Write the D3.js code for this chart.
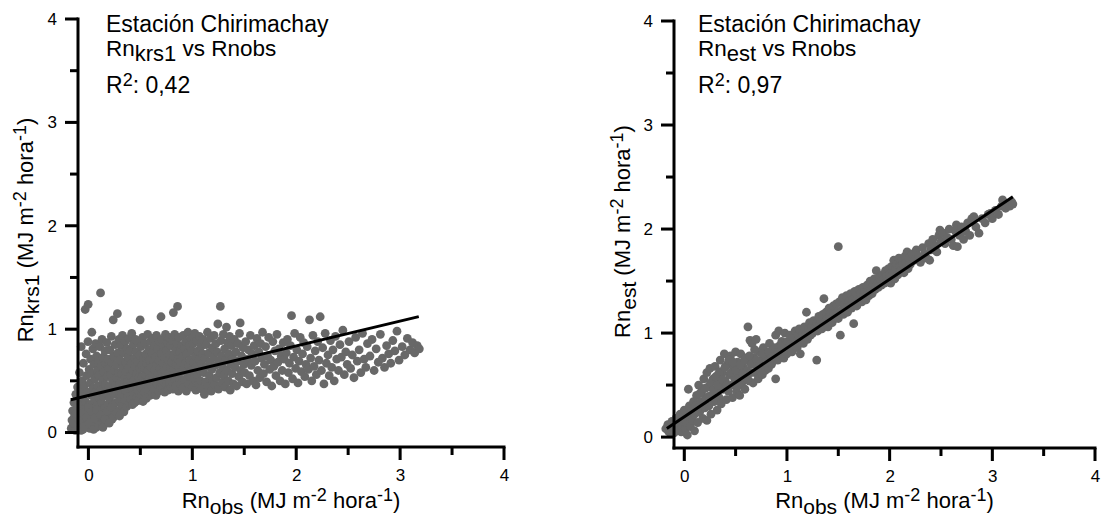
<!DOCTYPE html>
<html>
<head>
<meta charset="utf-8">
<script src="https://cdn.jsdelivr.net/npm/d3@7"></script>
<style>
body { margin: 0; background: #fff; }
text { font-family: "Liberation Sans", Arial, sans-serif; }
</style>
</head>
<body>
<script>
// tick values
var xMajor = [0, 1, 2, 3, 4];
var xMinor = [0.5, 1.5, 2.5, 3.5];
var yMajor = [0, 1, 2, 3, 4];
var yMinor = [0.5, 1.5, 2.5, 3.5];

var stationName = "Estación Chirimachay";
var modelNames = ["krs1", "est"];
var r2Labels = ["0,42", "0,97"];

// Rn_obs (x) vs Rn_krs1 (y)
var krsPoints = [
  [-0.165,0.04],[-0.158,0.12],[-0.152,0.21],[-0.147,0.07],[-0.139,0.29],[-0.133,0.16],[-0.126,0.02],
  [-0.121,0.37],[-0.114,0.1],[-0.108,0.24],[-0.104,0.44],[-0.101,0.15],
  [-0.097,0.05],[-0.093,0.31],[-0.089,0.19],[-0.086,0.58],[-0.081,0.09],[-0.077,0.41],[-0.072,0.26],
  [-0.069,0.83],[-0.064,0.14],[-0.061,0.5],[-0.057,0.35],[-0.052,0.03],[-0.048,0.67],[-0.044,0.22],
  [-0.039,0.45],[-0.035,0.11],[-0.031,1.19],[-0.027,0.3],[-0.022,0.76],[-0.018,0.55],[-0.013,0.07],
  [-0.008,0.39],[-0.004,0.88],[-0.002,1.24],
  [0.003,0.17],[0.007,0.61],[0.011,0.27],[0.014,0.04],[0.018,0.48],[0.022,0.71],[0.026,0.13],
  [0.029,0.36],[0.033,0.97],[0.036,0.57],[0.04,0.22],[0.043,0.81],[0.047,0.43],[0.051,0.09],
  [0.054,0.66],[0.058,0.31],[0.061,0.52],[0.065,0.18],[0.069,0.86],[0.072,0.39],[0.076,0.05],
  [0.079,0.74],[0.083,0.26],[0.086,0.6],[0.09,0.45],[0.093,0.12],[0.097,0.69],[0.099,0.34],
  [0.102,0.55],[0.106,0.2],[0.109,0.83],[0.113,0.08],[0.117,1.35],[0.12,0.41],[0.124,0.64],
  [0.127,0.29],[0.131,0.9],[0.135,0.14],[0.138,0.5],[0.142,0.73],[0.145,0.35],[0.149,0.59],
  [0.153,0.1],[0.156,0.24],[0.16,0.79],[0.163,0.46],[0.167,0.67],[0.171,0.17],[0.174,0.38],
  [0.178,0.87],[0.181,0.54],[0.185,0.27],[0.188,0.71],[0.192,0.12],[0.196,0.44],[0.199,0.62],
  [0.203,0.33],[0.207,0.8],[0.21,0.19],[0.214,0.56],[0.218,0.42],[0.221,0.93],[0.225,0.68],
  [0.229,0.13],[0.232,0.5],[0.236,0.26],[0.239,1.09],[0.243,0.74],[0.247,0.37],[0.25,0.6],
  [0.254,0.16],[0.258,0.85],[0.261,0.46],[0.265,0.29],[0.268,0.66],[0.272,0.53],[0.276,0.21],
  [0.279,1.15],[0.283,0.77],[0.287,0.4],[0.29,0.58],[0.294,0.9],[0.298,0.31],
  [0.302,0.47],[0.306,0.7],[0.309,0.22],[0.313,0.84],[0.317,0.36],[0.32,0.57],[0.324,0.27],
  [0.328,0.94],[0.331,0.63],[0.335,0.43],[0.339,0.77],[0.342,0.2],[0.346,0.52],[0.35,0.31],
  [0.353,0.88],[0.357,0.68],[0.361,0.4],[0.364,0.59],[0.368,0.25],[0.372,0.81],[0.375,0.49],
  [0.379,0.35],[0.383,0.73],[0.386,0.62],[0.39,0.91],[0.394,0.28],[0.397,0.45],
  [0.402,0.79],[0.406,0.55],[0.41,0.32],[0.413,0.67],[0.417,0.96],[0.421,0.42],[0.424,0.27],
  [0.428,0.6],[0.432,0.85],[0.435,0.5],[0.439,0.37],[0.443,0.72],[0.446,0.29],[0.45,0.64],
  [0.454,0.9],[0.457,0.46],[0.461,0.78],[0.465,0.34],[0.468,0.57],[0.472,0.69],[0.476,0.41],
  [0.479,0.87],[0.483,0.31],[0.487,0.53],[0.49,0.75],[0.494,0.62],[0.498,1.09],
  [0.502,0.44],[0.506,0.83],[0.51,0.35],[0.514,0.65],[0.518,0.54],[0.522,0.92],[0.526,0.3],
  [0.53,0.71],[0.534,0.47],[0.538,0.61],[0.542,0.39],[0.546,0.86],[0.55,0.56],[0.554,0.76],
  [0.558,0.33],[0.562,0.67],[0.566,0.49],[0.57,0.95],[0.574,0.6],[0.578,0.41],[0.582,0.8],
  [0.586,0.52],[0.59,0.7],[0.594,0.36],[0.598,0.88],
  [0.603,0.63],[0.607,0.45],[0.611,0.77],[0.615,0.38],[0.619,0.91],[0.623,0.55],[0.627,0.69],
  [0.631,0.42],[0.635,0.84],[0.639,0.6],[0.643,0.5],[0.647,0.73],[0.651,0.36],[0.655,0.94],
  [0.659,0.65],[0.663,0.47],[0.667,0.81],[0.671,0.57],[0.675,0.4],[0.679,0.7],[0.683,0.88],
  [0.687,0.52],[0.691,0.62],[0.695,0.44],[0.699,1.12],
  [0.702,0.76],[0.706,0.58],[0.71,0.9],[0.714,0.43],[0.718,0.67],[0.722,0.5],[0.726,0.83],
  [0.73,0.61],[0.734,0.39],[0.738,0.72],[0.742,0.95],[0.746,0.54],[0.75,0.79],[0.754,0.46],
  [0.758,0.64],[0.762,0.87],[0.766,0.41],[0.77,0.7],[0.774,0.57],[0.778,0.92],[0.782,0.48],
  [0.786,0.75],[0.79,0.63],[0.794,0.84],[0.798,0.44],
  [0.802,0.68],[0.806,0.55],[0.81,0.89],[0.814,0.42],[0.818,1.16],[0.822,0.74],[0.826,0.61],
  [0.83,0.95],[0.834,0.5],[0.838,0.8],[0.842,0.45],[0.846,0.66],[0.85,0.86],[0.854,0.58],
  [0.858,1.22],[0.862,0.71],[0.866,0.4],[0.87,0.92],[0.874,0.63],[0.878,0.52],[0.882,0.78],
  [0.886,0.69],[0.89,0.47],[0.894,0.84],[0.898,0.59],
  [0.903,0.73],[0.908,0.43],[0.913,0.94],[0.918,0.62],[0.923,0.81],[0.928,0.51],[0.933,0.67],
  [0.938,0.88],[0.943,0.4],[0.948,0.76],[0.953,0.57],[0.958,0.97],[0.963,0.65],[0.968,0.47],
  [0.973,0.84],[0.978,0.7],[0.983,0.54],[0.988,0.91],[0.993,0.6],[0.998,0.79],
  [1.004,0.44],[1.009,0.86],[1.014,0.68],[1.019,0.52],[1.024,0.96],[1.029,0.74],[1.034,0.41],
  [1.039,0.63],[1.044,0.89],[1.049,0.56],[1.054,0.79],[1.059,0.47],[1.064,0.71],[1.069,0.93],
  [1.074,0.6],[1.079,0.5],[1.084,0.83],[1.089,0.66],[1.094,0.42],[1.099,0.76],
  [1.104,0.9],[1.11,0.58],[1.116,0.37],[1.122,0.72],[1.128,0.49],[1.134,0.85],[1.14,0.64],
  [1.146,0.97],[1.152,0.44],[1.158,0.77],[1.164,0.55],[1.17,0.68],[1.176,0.91],[1.182,0.4],
  [1.188,0.61],[1.194,0.82],[1.199,0.5],
  [1.204,0.73],[1.21,0.94],[1.216,0.46],[1.222,0.65],[1.228,0.86],[1.234,0.53],[1.24,0.78],
  [1.246,1.05],[1.252,0.42],[1.258,0.69],[1.264,0.58],[1.27,1.22],[1.276,0.89],[1.282,0.74],
  [1.288,0.48],[1.294,0.63],[1.299,0.95],
  [1.305,0.55],[1.311,0.81],[1.317,0.44],[1.323,0.7],[1.329,1.02],[1.335,0.6],[1.341,0.87],
  [1.347,0.5],[1.353,0.76],[1.359,0.93],[1.365,0.41],[1.371,0.66],[1.377,0.84],[1.383,0.57],
  [1.389,0.72],[1.395,0.47],
  [1.405,0.9],[1.412,0.63],[1.419,0.78],[1.426,0.45],[1.433,0.69],[1.44,0.86],[1.447,0.54],
  [1.454,0.96],[1.461,1.06],[1.468,0.6],[1.475,0.74],[1.482,0.49],[1.489,0.82],[1.496,0.66],
  [1.505,0.58],[1.514,0.88],[1.523,0.47],[1.532,0.71],[1.541,0.8],[1.55,0.55],[1.559,0.94],
  [1.568,0.65],[1.577,0.76],[1.586,0.5],[1.595,0.84],
  [1.604,0.69],[1.613,0.46],[1.622,0.91],[1.631,0.6],[1.64,0.78],[1.649,0.53],[1.658,0.86],
  [1.667,0.72],[1.676,0.97],[1.685,0.57],[1.694,0.66],
  [1.705,0.83],[1.715,0.49],[1.725,0.74],[1.735,0.92],[1.745,0.61],[1.755,0.7],[1.765,0.45],
  [1.775,0.88],[1.785,0.64],[1.795,0.79],
  [1.805,0.55],[1.815,0.95],[1.825,0.68],[1.835,0.81],[1.845,0.5],[1.855,0.74],[1.865,0.6],
  [1.875,0.87],[1.885,0.71],[1.895,0.47],
  [1.905,0.77],[1.915,0.9],[1.925,0.58],[1.935,0.67],[1.945,0.84],[1.955,1.13],[1.965,0.52],
  [1.975,0.73],[1.985,0.96],[1.995,0.62],
  [2.006,0.8],[2.017,0.48],[2.028,0.69],[2.039,0.92],[2.05,0.59],[2.061,0.76],[2.072,0.87],
  [2.083,0.54],[2.094,0.66],
  [2.106,0.83],[2.117,0.61],[2.128,1.09],[2.139,0.72],[2.15,0.5],[2.161,0.94],[2.172,0.64],
  [2.183,0.79],[2.194,0.56],
  [2.207,0.88],[2.219,0.7],[2.231,1.12],[2.243,0.6],[2.255,0.82],[2.267,0.47],[2.279,0.96],[2.291,0.67],
  [2.306,0.75],[2.318,0.55],[2.33,0.89],[2.342,0.63],[2.354,0.8],[2.366,0.5],[2.378,0.93],[2.39,0.71],
  [2.407,0.6],[2.421,0.85],[2.435,0.73],[2.449,0.99],[2.463,0.56],[2.477,0.78],[2.491,0.66],
  [2.508,0.88],[2.524,0.62],[2.54,0.75],[2.556,0.53],[2.572,0.92],[2.588,0.69],
  [2.606,0.8],[2.622,0.58],[2.638,0.96],[2.654,0.71],[2.67,0.63],[2.686,0.86],
  [2.71,0.74],[2.73,0.9],[2.75,0.6],[2.77,0.81],[2.79,0.68],
  [2.81,0.95],[2.83,0.72],[2.85,0.63],[2.87,0.84],[2.89,0.76],
  [2.91,0.67],[2.93,0.89],[2.95,0.79],[2.97,0.98],[2.99,0.7],
  [3.02,0.83],[3.045,0.75],[3.07,0.91],[3.095,0.8],
  [3.12,0.87],[3.14,0.77],[3.165,0.84],[3.185,0.81],
  [-0.14,0.09],[-0.12,0.18],[-0.09,0.12],[-0.07,0.02],[-0.06,0.19],[-0.04,0.06],[-0.02,0.15],
  [0.0,0.24],[0.01,0.09],[0.03,0.2],[0.05,0.03],[0.06,0.14],[0.08,0.22],[0.1,0.07],[0.12,0.17],
  [0.14,0.05],[0.16,0.13],[0.18,0.21],[0.2,0.09],[0.22,0.24],[0.24,0.15],[0.27,0.19],[0.3,0.16]
];

// Rn_obs (x) vs Rn_est (y)
var estPoints = [
  [-0.18,0.08],[-0.16,0.12],[-0.15,0.05],[-0.13,0.1],[-0.12,0.15],[-0.1,0.04],[-0.09,0.12],[-0.08,0.18],
  [-0.06,0.08],[-0.05,0.14],[-0.04,0.22],[-0.03,0.05],[-0.02,0.1],[-0.01,0.18],[0,0.26],[0.01,0.08],
  [0.02,0.14],[0.03,0.02],[0.04,0.2],[0.04,0.46],[0.05,0.3],[0.06,0.1],[0.07,0.24],[0.08,0.16],
  [0.09,0.34],[0.1,0.06],[0.1,0.22],
  [0.11,0.3],[0.12,0.4],[0.13,0.14],[0.14,0.5],[0.15,0.24],[0.16,0.34],[0.17,0.44],[0.18,0.18],
  [0.19,0.56],[0.2,0.28],[0.21,0.38],[0.22,0.62],[0.22,0.16],[0.23,0.48],[0.24,0.3],[0.25,0.66],
  [0.26,0.22],[0.27,0.4],[0.28,0.56],[0.29,0.34],[0.3,0.68],[0.31,0.46],[0.32,0.26],[0.33,0.6],
  [0.34,0.38],[0.35,0.74],[0.35,0.52],
  [0.36,0.32],[0.37,0.62],[0.38,0.46],[0.39,0.8],[0.4,0.54],[0.41,0.36],[0.42,0.7],[0.43,0.44],
  [0.44,0.6],[0.45,0.78],[0.46,0.5],[0.47,0.38],[0.48,0.66],[0.49,0.56],[0.5,0.82],[0.51,0.44],
  [0.52,0.72],[0.53,0.6],[0.54,0.4],[0.55,0.8],[0.56,0.52],[0.57,0.68],[0.58,0.58],[0.59,0.46],
  [0.6,0.76],[0.61,0.64],[0.62,1.06],[0.63,0.54],[0.64,0.93],[0.64,0.72],[0.65,0.62],
  [0.66,0.9],[0.67,0.52],[0.68,0.76],[0.69,0.62],[0.7,0.94],[0.71,0.68],[0.72,0.56],[0.73,0.82],
  [0.74,0.64],[0.75,0.74],[0.76,0.6],[0.77,0.86],[0.78,0.7],[0.79,0.64],[0.8,0.8],[0.81,0.74],
  [0.82,0.66],[0.83,0.9],[0.84,0.78],[0.85,0.7],[0.86,0.84],[0.87,0.76],[0.89,0.56],[0.89,0.98],
  [0.9,0.82],[0.91,0.74],[0.92,1.02],[0.93,0.88],[0.94,0.8],[0.95,0.92],[0.96,0.84],[0.97,0.76],
  [0.98,1.0],[0.99,0.9],
  [0.125,0.27],[0.155,0.42],[0.185,0.31],[0.205,0.47],[0.235,0.39],[0.255,0.52],[0.285,0.45],
  [0.305,0.58],[0.325,0.5],[0.345,0.63],[0.375,0.55],[0.395,0.67],[0.415,0.5],[0.435,0.74],
  [0.455,0.62],[0.475,0.72],[0.505,0.64],[0.525,0.5],[0.545,0.7],[0.565,0.61],[0.585,0.74],
  [0.615,0.56],[0.635,0.78],[0.655,0.7],[0.685,0.84],[0.705,0.74],[0.735,0.7],[0.765,0.8],
  [0.795,0.72],[0.825,0.82],[0.855,0.77],[0.885,0.86],[0.915,0.82],[0.945,0.87],
  [1.0,0.8],[1.01,0.92],[1.02,0.86],[1.03,0.98],[1.04,0.9],[1.05,0.82],[1.06,0.96],[1.07,0.88],
  [1.08,1.02],[1.09,0.92],[1.1,0.86],[1.11,0.98],[1.12,1.04],[1.13,0.8],[1.14,0.94],[1.15,1.0],
  [1.16,0.9],[1.17,1.06],[1.18,0.98],[1.19,1.2],[1.2,0.94],[1.21,1.04],[1.22,1.1],[1.23,0.98],
  [1.24,1.06],[1.25,1.0],[1.26,1.12],[1.27,1.04],[1.29,0.74],[1.29,1.1],[1.3,1.02],[1.31,1.16],
  [1.32,1.08],[1.33,1.12],[1.34,1.04],[1.35,1.18],[1.36,1.33],[1.37,1.1],[1.38,1.2],[1.39,1.14],
  [1.4,1.06],[1.41,1.24],[1.42,1.16],[1.43,1.2],[1.44,1.1],[1.45,1.26],[1.46,1.18],[1.47,1.14],
  [1.48,1.28],[1.49,1.2],[1.5,1.83],[1.5,1.14],
  [1.51,1.3],[1.52,0.98],[1.53,1.22],[1.54,1.34],[1.55,1.18],[1.56,1.28],[1.57,1.24],[1.58,1.36],
  [1.59,1.2],[1.6,1.3],[1.61,1.26],[1.62,1.38],[1.63,1.24],[1.64,1.32],[1.65,1.09],[1.66,1.4],
  [1.67,1.3],[1.68,1.26],[1.69,1.36],[1.7,1.42],[1.71,1.32],[1.72,1.38],[1.73,1.3],[1.74,1.44],
  [1.75,1.36],[1.76,1.4],[1.77,1.32],[1.78,1.46],[1.79,1.4],[1.8,1.36],[1.81,1.5],[1.82,1.42],
  [1.83,1.38],[1.84,1.46],[1.85,1.52],[1.86,1.42],[1.87,1.6],[1.88,1.48],[1.89,1.44],[1.9,1.54],
  [1.91,1.5],[1.92,1.46],[1.93,1.56],[1.94,1.52],[1.95,1.48],[1.96,1.6],[1.97,1.54],[1.98,1.5],
  [1.99,1.62],[2.0,1.56],
  [2.01,1.48],[2.02,1.64],[2.03,1.58],[2.04,1.7],[2.05,1.52],[2.06,1.62],[2.07,1.66],[2.08,1.56],
  [2.09,1.72],[2.1,1.64],[2.11,1.6],[2.12,1.7],[2.13,1.66],[2.14,1.58],[2.15,1.74],[2.16,1.68],
  [2.17,1.78],[2.18,1.62],[2.19,1.72],[2.2,1.66],[2.22,1.76],[2.24,1.7],[2.26,1.8],[2.28,1.74],
  [2.3,1.68],[2.32,1.82],[2.34,1.76],[2.36,1.72],[2.38,1.86],[2.39,1.7],[2.4,1.8],[2.42,1.9],
  [2.44,1.84],[2.46,1.78],[2.48,1.94],[2.49,1.99],[2.5,1.88],
  [2.52,1.96],[2.54,1.86],[2.56,1.92],[2.58,2.0],[2.6,1.9],[2.62,1.84],[2.64,1.98],[2.65,2.04],
  [2.66,1.83],[2.68,1.94],[2.7,2.02],[2.72,1.9],[2.74,1.98],[2.76,2.06],[2.78,1.94],[2.8,2.1],
  [2.82,2.12],[2.84,2.02],[2.87,1.96],[2.9,2.1],[2.93,2.06],[2.96,2.14],[2.98,2.15],[3.0,2.1],
  [3.03,2.18],[3.06,2.14],[3.09,2.22],[3.1,2.28],[3.13,2.2],[3.16,2.24],[3.17,2.22],[3.19,2.26],[3.2,2.24]
];

// fitted lines, end points
var krsFit = [[-0.17, 0.317], [3.18, 1.121]];
var estFit = [[-0.17, 0.083], [3.2, 2.31]];

var svg = d3.select("body").append("svg")
    .attr("width", 1104)
    .attr("height", 522);

var panels = [
  { points: krsPoints, fit: krsFit, model: modelNames[0], r2: r2Labels[0],
    xRange: [78, 504], yRange: [447, 19], yMin: -0.14, textX: 106, yLabelX: 33 },
  { points: estPoints, fit: estFit, model: modelNames[1], r2: r2Labels[1],
    xRange: [674, 1095], yRange: [448, 21], yMin: -0.105, textX: 698, yLabelX: 630 }
];

var NB = "\u00a0";
var markLayer = svg.append("g");
var axisLayer = svg.append("g");
var textLayer = svg.append("g");

// text made of pieces, each with its own size and baseline shift
function richText(sel, parts) {
  var prev = 0;
  parts.forEach(function (p) {
    sel.append("tspan")
      .attr("font-size", p[1] + "px")
      .attr("dy", p[2] - prev)
      .text(p[0]);
    prev = p[2];
  });
}

// d3 axis gives the labels; axis line and ticks are filled rects placed by the scale
function drawAxis(g, scale, bottom, at, major, minor) {
  var axis = (bottom ? d3.axisBottom(scale) : d3.axisLeft(scale))
    .tickValues(major).tickSize(13).tickSizeOuter(0)
    .tickPadding(bottom ? 9 : 8).tickFormat(d3.format("d"));
  var ax = g.append("g")
    .attr("transform", bottom ? "translate(0," + at + ")" : "translate(" + at + ",0)")
    .call(axis);
  ax.selectAll("text").attr("font-size", "17px").attr("fill", "#000");

  var r = scale.range();
  var lo = Math.min(r[0], r[1]), hi = Math.max(r[0], r[1]);
  var bars = g.append("g");
  var ticks = major.map(function (v) { return { v: v, len: 13 }; })
    .concat(minor.map(function (v) { return { v: v, len: 8 }; }));

  if (bottom) {
    bars.append("rect").attr("x", lo - 1.5).attr("y", at - 1.5)
      .attr("width", hi - lo + 3).attr("height", 3).attr("fill", "#000");
    bars.selectAll("rect.tk").data(ticks).enter().append("rect").attr("class", "tk")
      .attr("x", function (d) { return scale(d.v) - 1.5; })
      .attr("y", at)
      .attr("width", 3)
      .attr("height", function (d) { return d.len; })
      .attr("fill", "#000");
  } else {
    bars.append("rect").attr("x", at - 1.5).attr("y", lo - 1.5)
      .attr("width", 3).attr("height", hi - lo + 3).attr("fill", "#000");
    bars.selectAll("rect.tk").data(ticks).enter().append("rect").attr("class", "tk")
      .attr("x", function (d) { return at - d.len; })
      .attr("y", function (d) { return scale(d.v) - 1.5; })
      .attr("width", function (d) { return d.len; })
      .attr("height", 3)
      .attr("fill", "#000");
  }
}

panels.forEach(function (p) {
  var x = d3.scaleLinear().domain([-0.1, 4]).range(p.xRange);
  var y = d3.scaleLinear().domain([p.yMin, 4]).range(p.yRange);

  var g = markLayer.append("g");
  g.selectAll("circle")
    .data(p.points)
    .enter()
    .append("circle")
    .attr("cx", function (d) { return x(d[0]); })
    .attr("cy", function (d) { return y(d[1]); })
    .attr("r", 4.4)
    .style("fill", "#686868");

  g.append("path")
    .datum(p.fit)
    .attr("d", d3.line().x(function (d) { return x(d[0]); }).y(function (d) { return y(d[1]); }))
    .style("fill", "none")
    .style("stroke", "#000")
    .style("stroke-width", 3);

  drawAxis(axisLayer, x, true, p.yRange[0], xMajor, xMinor);
  drawAxis(axisLayer, y, false, p.xRange[0], yMajor, yMinor);

  // annotation
  var t = textLayer.append("g");
  t.append("text").attr("x", p.textX).attr("y", 32)
    .attr("font-size", "23px").text(stationName);
  richText(t.append("text").attr("x", p.textX).attr("y", 56),
    [["Rn", 22.5, 0], [p.model, 22, 5], [NB + "vs" + NB + "Rnobs", 22.5, 0]]);
  richText(t.append("text").attr("x", p.textX).attr("y", 93),
    [["R", 23, 0], ["2", 18, -7], [":" + NB + p.r2, 23, 0]]);

  // axis titles
  var xMid = (p.xRange[0] + p.xRange[1]) / 2;
  richText(t.append("text").attr("x", xMid).attr("y", 508).attr("text-anchor", "middle"),
    [["Rn", 22, 0], ["obs", 21, 6], [NB + "(MJ" + NB + "m", 22, 0], ["-2", 18, -7],
     [NB + "hora", 22, 0], ["-1", 18, -7], [")", 22, 0]]);

  var yMid = (p.yRange[0] + p.yRange[1]) / 2 - 3;
  richText(t.append("text")
      .attr("transform", "translate(" + p.yLabelX + "," + yMid + ") rotate(-90)")
      .attr("text-anchor", "middle"),
    [["Rn", 22, 0], [p.model, 21, 6], [NB + "(MJ" + NB + "m", 22, 0], ["-2", 18, -7],
     [NB + "hora", 22, 0], ["-1", 18, -7], [")", 22, 0]]);
});
</script>
</body>
</html>
